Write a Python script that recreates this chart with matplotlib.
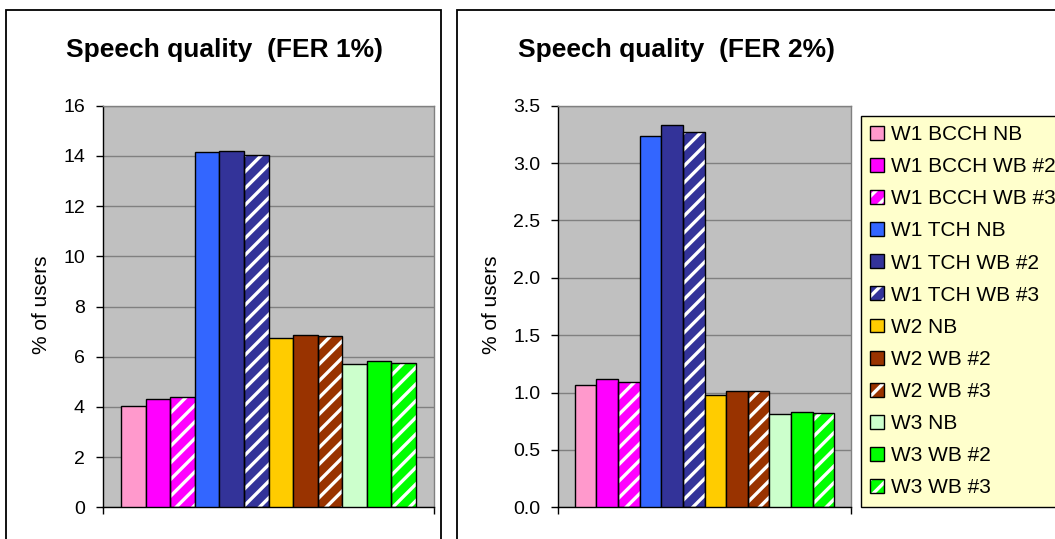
import matplotlib
matplotlib.use("Agg")
import matplotlib.pyplot as plt
from matplotlib.patches import Rectangle, Patch
from matplotlib.legend_handler import HandlerTuple
import numpy as np

plt.rcParams['font.family'] = ['Liberation Sans', 'DejaVu Sans']
plt.rcParams['hatch.linewidth'] = 2.4

series = ["W1 BCCH NB", "W1 BCCH WB #2", "W1 BCCH WB #3",
          "W1 TCH NB", "W1 TCH WB #2", "W1 TCH WB #3",
          "W2 NB", "W2 WB #2", "W2 WB #3",
          "W3 NB", "W3 WB #2", "W3 WB #3"]
colors = ["#FF99CC", "#FF00FF", "#FF00FF",
          "#3366FF", "#333399", "#333399",
          "#FFCC00", "#993300", "#993300",
          "#CCFFCC", "#00FF00", "#00FF00"]
hatched = [False, False, True] * 4

fer1 = [4.03, 4.33, 4.38, 14.15, 14.2, 14.05, 6.76, 6.88, 6.83, 5.71, 5.83, 5.76]
fer2 = [1.07, 1.12, 1.09, 3.24, 3.33, 3.27, 0.98, 1.01, 1.01, 0.81, 0.83, 0.82]

titles = ["Speech quality  (FER 1%)", "Speech quality  (FER 2%)"]
ylims = [(0, 16), (0, 3.5)]
yticks = [np.arange(0, 17, 2), np.arange(0, 3.51, 0.5)]
yfmt = ["{:.0f}", "{:.1f}"]

W, H = 1055, 539
fig = plt.figure(figsize=(W / 100, H / 100), dpi=100)
fig.patch.set_facecolor("white")

def fx(px):
    return px / W

def fy(py):
    return (H - py) / H

# chart-area frames
fig.add_artist(Rectangle((fx(6), fy(545)), fx(441) - fx(6), fy(9.7) - fy(545),
                         transform=fig.transFigure, fill=False, ec="black", lw=1.3))
fig.add_artist(Rectangle((fx(456.7), fy(545)), fx(1065) - fx(456.7), fy(10) - fy(545),
                         transform=fig.transFigure, fill=False, ec="black", lw=1.3))

axes_px = [(103, 434), (558.3, 850.7)]
top_px, bot_px = 105.7, 507.3
title_x = [224, 676]
ylabel_x = [51, 501]
datasets = [fer1, fer2]

n = len(series)
group = 0.889
bw = group / n
offsets = -group / 2 + bw * (np.arange(n) + 0.5)

handles = []
for i, (x0, x1) in enumerate(axes_px):
    ax = fig.add_axes([fx(x0), fy(bot_px), fx(x1) - fx(x0), fy(top_px) - fy(bot_px)])
    ax.set_facecolor("#C0C0C0")
    ax.set_xlim(-0.5, 0.5)
    ax.set_ylim(*ylims[i])
    ax.set_yticks(yticks[i])
    ax.set_yticklabels([yfmt[i].format(v) for v in yticks[i]])
    ax.set_xticks([-0.5, 0.5])
    ax.set_xticklabels([])
    ax.yaxis.grid(True, color="#808080", lw=1.0)
    ax.set_axisbelow(True)
    ax.tick_params(axis="both", direction="out", length=5, width=1, labelsize=14, pad=8)
    ax.spines["top"].set_color("#808080")
    ax.spines["right"].set_color("#808080")
    ax.spines["left"].set_color("black")
    ax.spines["bottom"].set_color("black")
    for s in ax.spines.values():
        s.set_linewidth(1.0)
    vals = datasets[i]
    for k in range(n):
        if hatched[k]:
            ax.bar(offsets[k], vals[k], width=bw, color=colors[k], edgecolor="white",
                   hatch="//", linewidth=0, zorder=2)
            ax.bar(offsets[k], vals[k], width=bw, fill=False, edgecolor="black",
                   linewidth=1.0, zorder=3)
        else:
            ax.bar(offsets[k], vals[k], width=bw, color=colors[k], edgecolor="black",
                   linewidth=1.0, zorder=3)
    ax.set_ylabel("% of users", fontsize=15)
    ax.yaxis.set_label_coords(fx(ylabel_x[i]), fy(305), transform=fig.transFigure)
    fig.text(fx(title_x[i]), fy(50), titles[i], ha="center", va="center",
             fontsize=19, fontweight="bold")

for k in range(n):
    if hatched[k]:
        h = (Patch(facecolor=colors[k], edgecolor="white", hatch="//", linewidth=0),
             Patch(fill=False, edgecolor="black", linewidth=1.0))
    else:
        h = Patch(facecolor=colors[k], edgecolor="black", linewidth=1.0)
    handles.append(h)

leg = fig.legend(handles, series, loc="upper left",
                 bbox_to_anchor=(fx(861), fy(115.7)), bbox_transform=fig.transFigure,
                 borderaxespad=0, fontsize=15, handlelength=0.65, handleheight=0.65,
                 handletextpad=0.35, labelspacing=0.63, borderpad=0.45,
                 fancybox=False, frameon=True, facecolor="#FFFFCC", edgecolor="black",
                 framealpha=1.0, handler_map={tuple: HandlerTuple(ndivide=1, pad=0)})
leg.get_frame().set_linewidth(1.0)

fig.savefig("out.png", dpi=100, facecolor="white")
